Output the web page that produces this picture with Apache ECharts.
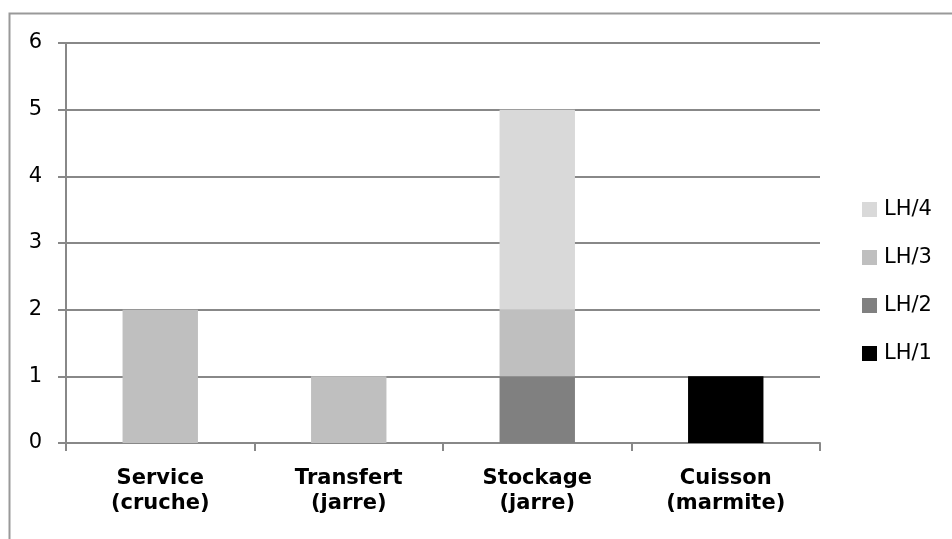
<!DOCTYPE html>
<html lang="fr">
<head>
<meta charset="UTF-8">
<title>LH par fonction</title>
<script src="https://cdn.jsdelivr.net/npm/echarts@6.0.0/dist/echarts.min.js"></script>
<style>
  html, body { margin: 0; padding: 0; background: #fff; }
  #chart { width: 952px; height: 539px; }
</style>
</head>
<body>
<div id="chart"></div>
<script>
// categories and stacked values
const categories = ['Service\n(cruche)', 'Transfert\n(jarre)', 'Stockage\n(jarre)', 'Cuisson\n(marmite)'];
const seriesNames = ['LH/1', 'LH/2', 'LH/3', 'LH/4'];
const lh1 = [0, 0, 0, 1];
const lh2 = [0, 0, 1, 0];
const lh3 = [2, 1, 1, 0];
const lh4 = [0, 0, 3, 0];
const colors = ['#000000', '#808080', '#bfbfbf', '#d9d9d9'];

const font = 'DejaVu Sans';
const chart = echarts.init(document.getElementById('chart'));

const values = [lh1, lh2, lh3, lh4];
const series = seriesNames.map((name, i) => ({
    name: name,
    type: 'bar',
    stack: 'total',
    barWidth: '40%',
    data: values[i],
    itemStyle: { color: colors[i] }
}));

chart.setOption({
    animation: false,
    backgroundColor: '#fff',
    textStyle: { fontFamily: font },
    grid: { left: 66, right: 132, top: 43, bottom: 96 },
    legend: {
        orient: 'vertical',
        left: 857,
        top: 194,
        itemWidth: 15,
        itemHeight: 15,
        itemGap: 27,
        icon: 'rect',
        data: seriesNames.slice().reverse(),
        textStyle: { fontFamily: font, fontSize: 21, color: '#000', padding: [0, 0, 0, 2] }
    },
    xAxis: {
        type: 'category',
        data: categories,
        axisLine: { lineStyle: { color: '#888', width: 2 } },
        axisTick: { show: true, length: 8, lineStyle: { color: '#888', width: 2 } },
        axisLabel: {
            fontFamily: font, fontSize: 21, fontWeight: 'bold', color: '#000',
            lineHeight: 25, margin: 23, interval: 0
        }
    },
    yAxis: {
        type: 'value',
        min: 0, max: 6, interval: 1,
        axisLine: { show: true, lineStyle: { color: '#888', width: 2 } },
        axisTick: { show: true, length: 8, lineStyle: { color: '#888', width: 2 } },
        axisLabel: { fontFamily: font, fontSize: 21, color: '#000', margin: 24 },
        splitLine: { lineStyle: { color: '#888', width: 2 } }
    },
    graphic: [{
        type: 'rect',
        shape: { x: 9.5, y: 13.5, width: 960, height: 560 },
        style: { fill: null, stroke: '#999', lineWidth: 2 },
        silent: true
    }],
    series: series
});
</script>
</body>
</html>
